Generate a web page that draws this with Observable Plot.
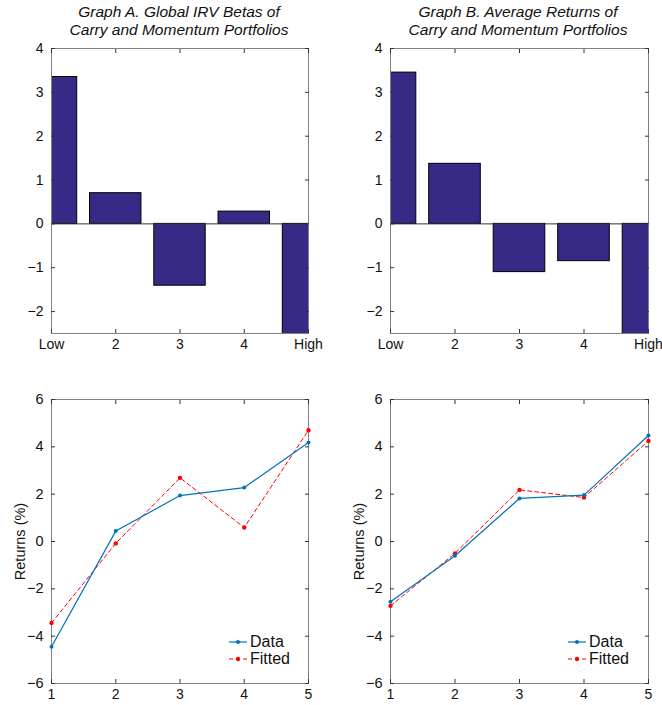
<!DOCTYPE html>
<html>
<head>
<meta charset="utf-8">
<script src="https://cdn.jsdelivr.net/npm/d3@7"></script>
<script src="https://cdn.jsdelivr.net/npm/@observablehq/plot@0.6"></script>
<style>
  html, body { margin: 0; padding: 0; background: #fff; }
  body { width: 662px; height: 705px; position: relative; overflow: hidden; font-family: "Liberation Sans", Arial, sans-serif; }
  .panel { position: absolute; }
  .title { position: absolute; text-align: center; font-style: italic; font-size: 15.5px; line-height: 18px; color: #111; width: 340px; }
  .legend { position: absolute; font-size: 16px; color: #111; line-height: 17px; }
  .legend div { display: flex; align-items: center; height: 17px; }
  .legend svg { margin-right: 2px; }
</style>
</head>
<body>
<script>
// ---- data ----
const portfolios = [1, 2, 3, 4, 5];
const barTickLabels = ["Low", "2", "3", "4", "High"];
const betasA = [3.35, 0.70, -1.41, 0.28, -3.2];      // Graph A: global IRV betas (last bar clipped)
const returnsB = [3.45, 1.37, -1.10, -0.85, -3.4];   // Graph B: average returns (last bar clipped)
const dataC = [-4.45, 0.44, 1.94, 2.28, 4.18];       // lower left: data
const fittedC = [-3.44, -0.08, 2.69, 0.59, 4.70];    // lower left: fitted
const dataD = [-2.55, -0.60, 1.82, 1.96, 4.48];      // lower right: data
const fittedD = [-2.72, -0.50, 2.18, 1.86, 4.25];    // lower right: fitted
const titles = [
  ["Graph A. Global IRV Betas of", "Carry and Momentum Portfolios"],
  ["Graph B. Average Returns of", "Carry and Momentum Portfolios"]
];

const FONT = "Liberation Sans, Arial, sans-serif";
const BAR_FILL = "#352a86";
const BLUE = "#0072bd";
const RED = "#ff0000";
const FRAME = "#808080";

function place(el, left, top) {
  el.classList.add("panel");
  el.style.left = left + "px";
  el.style.top = top + "px";
  document.body.appendChild(el);
}

function barChart(values, width, mLeft, mRight) {
  const rows = portfolios.map((p, i) => ({p, v: values[i]}));
  return Plot.plot({
    width, height: 360,
    marginTop: 48, marginBottom: 27, marginLeft: mLeft, marginRight: mRight,
    style: {fontFamily: FONT, fontSize: "14px", color: "#111", overflow: "visible"},
    x: {domain: [1, 5]},
    y: {domain: [-2.5, 4]},
    marks: [
      Plot.rect(rows, {x1: d => d.p - 0.4, x2: d => d.p + 0.4, y1: 0, y2: "v", fill: BAR_FILL, stroke: "#000", strokeWidth: 1, clip: true}),
      Plot.ruleY([0], {stroke: "#333", strokeWidth: 1}),
      Plot.frame({stroke: FRAME}),
      Plot.axisX({ticks: portfolios, tickFormat: (d, i) => barTickLabels[i], tickSize: 0, tickPadding: 6, label: null, fontSize: 14}),
      Plot.axisX({ticks: portfolios, text: null, tickSize: -4, stroke: "#333", label: null}),
      Plot.axisX({anchor: "top", ticks: portfolios, text: null, tickSize: -4, stroke: "#333", label: null}),
      Plot.axisY({ticks: [-2, -1, 0, 1, 2, 3, 4], tickFormat: d => d < 0 ? "\u2212" + Math.abs(d) : String(d), tickSize: 0, tickPadding: 8, label: null, fontSize: 14}),
      Plot.axisY({ticks: [-2, -1, 0, 1, 2, 3, 4], text: null, tickSize: -4, stroke: "#333", label: null}),
      Plot.axisY({anchor: "right", ticks: [-2, -1, 0, 1, 2, 3, 4], text: null, tickSize: -4, stroke: "#333", label: null})
    ]
  });
}

function lineChart(data, fitted, width, mLeft, mRight) {
  const rows = [];
  portfolios.forEach((p, i) => rows.push({p, v: data[i], s: "Data"}));
  portfolios.forEach((p, i) => rows.push({p, v: fitted[i], s: "Fitted"}));
  const d1 = rows.filter(r => r.s === "Data");
  const d2 = rows.filter(r => r.s === "Fitted");
  const yt = [-6, -4, -2, 0, 2, 4, 6];
  return Plot.plot({
    width, height: 325,
    marginTop: 19, marginBottom: 22, marginLeft: mLeft, marginRight: mRight,
    style: {fontFamily: FONT, fontSize: "14px", color: "#111", overflow: "visible"},
    x: {domain: [1, 5]},
    y: {domain: [-6, 6]},
    marks: [
      Plot.frame({stroke: FRAME}),
      Plot.line(d2, {x: "p", y: "v", stroke: RED, strokeWidth: 1, strokeDasharray: "4,3"}),
      Plot.dot(d2, {x: "p", y: "v", fill: RED, r: 2.2}),
      Plot.line(d1, {x: "p", y: "v", stroke: BLUE, strokeWidth: 1.2}),
      Plot.dot(d1, {x: "p", y: "v", fill: BLUE, r: 2}),
      Plot.axisX({ticks: portfolios, tickFormat: d => String(d), tickSize: 0, tickPadding: 6, label: null, fontSize: 14}),
      Plot.axisX({ticks: portfolios, text: null, tickSize: -4, stroke: "#333", label: null}),
      Plot.axisX({anchor: "top", ticks: portfolios, text: null, tickSize: -4, stroke: "#333", label: null}),
      Plot.axisY({ticks: yt, tickFormat: d => d < 0 ? "\u2212" + Math.abs(d) : String(d), tickSize: 0, tickPadding: 8, label: "Returns (%)", labelAnchor: "center", labelArrow: "none", labelOffset: 37, fontSize: 14.5}),
      Plot.axisY({ticks: yt, text: null, tickSize: -4, stroke: "#333", label: null}),
      Plot.axisY({anchor: "right", ticks: yt, text: null, tickSize: -4, stroke: "#333", label: null})
    ]
  });
}

function title(lines, center) {
  const t = document.createElement("div");
  t.className = "title";
  t.style.left = (center - 170) + "px";
  t.style.top = "3px";
  t.innerHTML = lines.map(l => `<div>${l}</div>`).join("");
  document.body.appendChild(t);
}

function legend(left, top) {
  const lg = document.createElement("div");
  lg.className = "legend";
  lg.style.left = left + "px";
  lg.style.top = top + "px";
  lg.innerHTML =
    `<div><svg width="20" height="10"><line x1="1" y1="5" x2="19" y2="5" stroke="${BLUE}" stroke-width="1.2"/><circle cx="10" cy="5" r="2" fill="${BLUE}"/></svg>Data</div>` +
    `<div><svg width="20" height="10"><line x1="1" y1="5" x2="19" y2="5" stroke="${RED}" stroke-width="1" stroke-dasharray="4,3"/><circle cx="10" cy="5" r="2.2" fill="${RED}"/></svg>Fitted</div>`;
  document.body.appendChild(lg);
}

place(barChart(betasA, 330, 51, 22), 0, 0);
place(barChart(returnsB, 332, 60, 14), 330, 0);
place(lineChart(dataC, fittedC, 330, 51, 22), 0, 380);
place(lineChart(dataD, fittedD, 332, 60, 14), 330, 380);
title(titles[0], 179);
title(titles[1], 518);
legend(228, 633);
legend(567, 633);
</script>
</body>
</html>
